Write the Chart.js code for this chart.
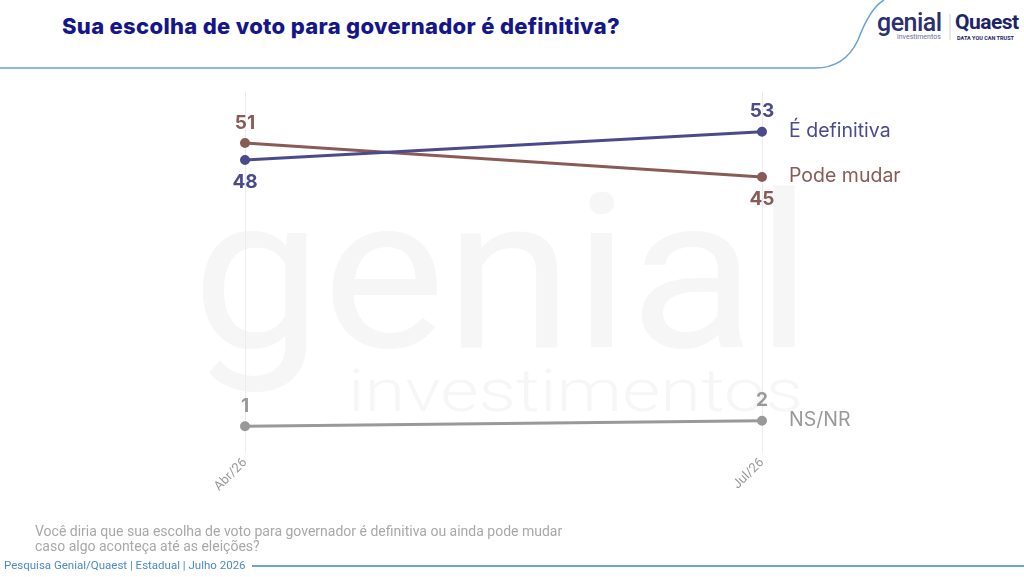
<!DOCTYPE html>
<html>
<head>
<meta charset="utf-8">
<script src="https://cdn.jsdelivr.net/npm/chart.js@4"></script>
<style>
  html,body{margin:0;padding:0;background:#fff;width:1024px;height:577px;overflow:hidden;font-family:Inter,"Noto Sans",sans-serif;}
  #wrap{position:absolute;left:0;top:0;width:1024px;height:577px;}
  .abs{position:absolute;white-space:nowrap;}
  #title{left:62px;top:13px;font-family:Inter,Roboto,sans-serif;font-weight:800;font-size:22px;color:#15168a;}
  #note{left:35px;top:524px;font-size:14px;line-height:15px;color:#a8a8a8;font-family:Roboto,sans-serif;}
  #foot{left:4px;top:558px;font-size:11.5px;color:#4a8cc4;font-family:Roboto,sans-serif;}
</style>
</head>
<body>
<div id="wrap">
  <svg class="abs" style="left:0;top:0" width="1024" height="577">
    <path d="M0 68 L815 68 Q845 68 858 40 Q870 8 884 0" fill="none" stroke="#6aa3d6" stroke-width="1.5"/>
    <line x1="252" y1="566" x2="1024" y2="566" stroke="#6aa3d6" stroke-width="2"/>
    <line x1="950" y1="14" x2="950" y2="40" stroke="#d0d0d8" stroke-width="1"/>
  </svg>
  <div id="title" class="abs">Sua escolha de voto para governador é definitiva?</div>
  <div class="abs" style="left:877px;top:8px;font-family:Roboto,sans-serif;font-weight:500;font-size:25px;color:#2a3070;letter-spacing:-0.5px;">genial</div>
  <div class="abs" style="left:897px;top:33px;font-family:Roboto,sans-serif;font-size:7px;color:#6a6f96;">investimentos</div>
  <div class="abs" style="left:955px;top:10px;font-family:Roboto,sans-serif;font-weight:700;font-size:21px;color:#1e2466;letter-spacing:-0.5px;">Quaest</div>
  <div class="abs" style="left:957px;top:35px;font-family:Roboto,sans-serif;font-weight:700;font-size:5.5px;color:#1e2466;">DATA YOU CAN TRUST</div>
  <canvas id="c" width="1024" height="577" class="abs" style="left:0;top:0"></canvas>
  <div id="note" class="abs">Você diria que sua escolha de voto para governador é definitiva ou ainda pode mudar<br>caso algo aconteça até as eleições?</div>
  <div id="foot" class="abs">Pesquisa Genial/Quaest | Estadual | Julho 2026</div>
</div>
<script>
const categories = ['Abr/26', 'Jul/26'];
const seriesNames = ['É definitiva', 'Pode mudar', 'NS/NR'];
const definitiva = [48, 53];
const podeMudar = [51, 45];
const nsnr = [1, 2];

const colors = ['#4a4a8c', '#8a5b56', '#999999'];
const labelSides = [['below','above'], ['above','below'], ['above','above']];

// fit title width
(function(){
  const t = document.getElementById('title');
  const w = t.getBoundingClientRect().width;
  const n = t.textContent.length;
  t.style.letterSpacing = ((558 - w) / n) + 'px';
})();

function fitText(ctx, text, x, y, width) {
  const w = ctx.measureText(text).width;
  ctx.save();
  ctx.translate(x, y);
  ctx.scale(width / w, 1);
  ctx.fillText(text, 0, 0);
  ctx.restore();
}

const watermark = {
  id: 'watermark',
  beforeDraw(chart) {
    const ctx = chart.ctx;
    ctx.save();
    ctx.fillStyle = '#f6f6f6';
    ctx.textBaseline = 'alphabetic';
    ctx.textAlign = 'left';
    ctx.font = '400 215px Roboto, sans-serif';
    fitText(ctx, 'genial', 192, 347, 620);
    ctx.font = '300 60px Roboto, sans-serif';
    fitText(ctx, 'investimentos', 348, 411, 455);
    ctx.restore();
  }
};

const valueLabels = {
  id: 'valueLabels',
  afterDatasetsDraw(chart) {
    const ctx = chart.ctx;
    ctx.save();
    chart.data.datasets.forEach((ds, di) => {
      const meta = chart.getDatasetMeta(di);
      meta.data.forEach((pt, i) => {
        const side = labelSides[di][i];
        ctx.font = 'bold 19px Inter, sans-serif';
        ctx.fillStyle = colors[di];
        ctx.textAlign = 'center';
        ctx.textBaseline = 'middle';
        const y = side === 'above' ? pt.y - 20 : pt.y + 22;
        ctx.fillText(String(ds.data[i]), pt.x, y);
      });
      const last = meta.data[meta.data.length - 1];
      ctx.font = '19.5px Inter, sans-serif';
      ctx.textAlign = 'left';
      ctx.textBaseline = 'middle';
      ctx.fillStyle = colors[di];
      ctx.fillText(ds.label, last.x + 27, last.y - 1);
    });
    ctx.restore();
  }
};

const mk = (label, data, i) => ({
  label, data,
  borderColor: colors[i], backgroundColor: colors[i],
  pointBackgroundColor: colors[i], pointBorderColor: colors[i],
  borderWidth: 3, pointRadius: 3.5, pointHoverRadius: 3.5, tension: 0
});

new Chart(document.getElementById('c'), {
  type: 'line',
  data: {
    labels: categories,
    datasets: [
      mk(seriesNames[0], definitiva, 0),
      mk(seriesNames[1], podeMudar, 1),
      mk(seriesNames[2], nsnr, 2)
    ]
  },
  options: {
    responsive: false,
    animation: false,
    layout: { padding: { left: 245, right: 262, top: 92, bottom: 0 } },
    plugins: { legend: { display: false }, tooltip: { enabled: false } },
    scales: {
      y: { display: false, min: 0, max: 60 },
      x: {
        offset: false,
        afterFit(axis) { axis.height = 145; },
        border: { display: false },
        grid: { color: '#ececec', lineWidth: 1, drawTicks: true, tickLength: 21, tickColor: '#ececec' },
        ticks: { minRotation: 45, maxRotation: 45, color: '#9a9a9a', font: { size: 13, family: 'Roboto, sans-serif' }, padding: 2 }
      }
    }
  },
  plugins: [watermark, valueLabels]
});
</script>
</body>
</html>
